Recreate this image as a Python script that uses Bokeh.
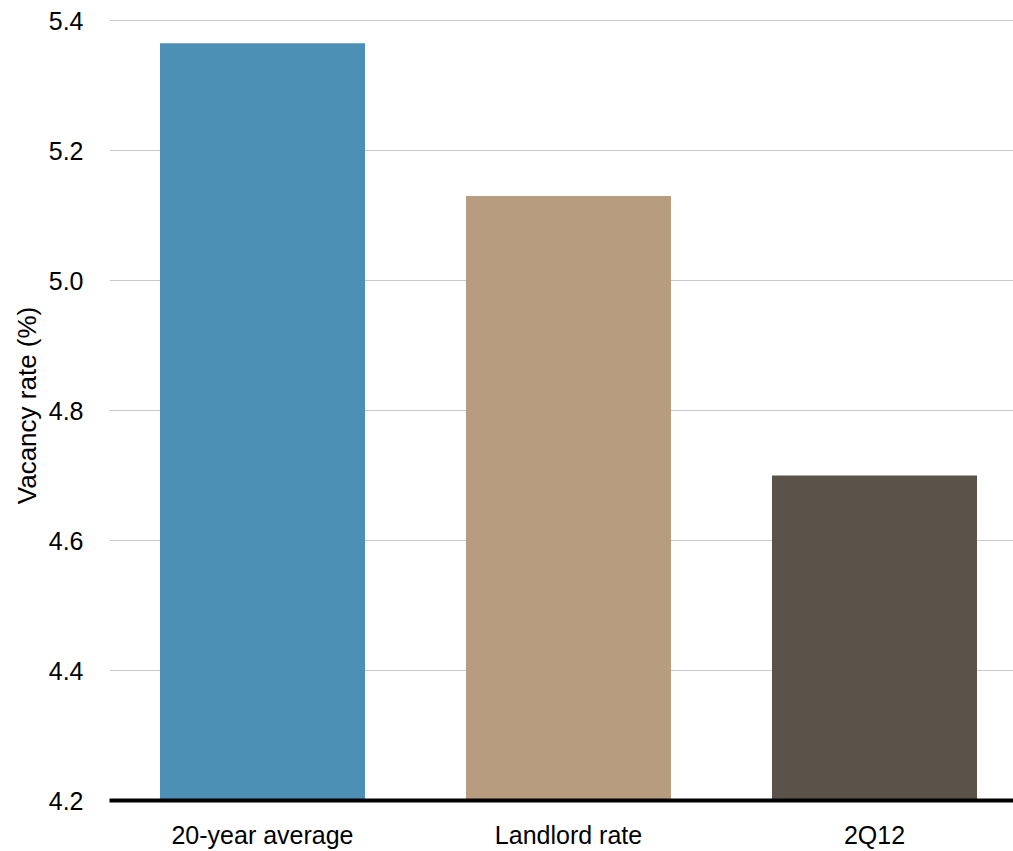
from bokeh.plotting import figure
from bokeh.models import Range1d, FixedTicker, PrintfTickFormatter, ColumnDataSource
from bokeh.embed import file_html
from bokeh.resources import INLINE

categories = ["20-year average", "Landlord rate", "2Q12"]
vacancy_rate = [5.365, 5.13, 4.70]
bar_colors = ["#4C91B5", "#B89C7F", "#5B5249"]
y_ticks = [4.2, 4.4, 4.6, 4.8, 5.0, 5.2, 5.4]

x_pos = [i + 0.5 for i in range(len(categories))]
src = ColumnDataSource(dict(x=x_pos, top=vacancy_rate, color=bar_colors))

FONT = "Liberation Sans"

p = figure(width=1013, height=851, output_backend="svg", toolbar_location=None,
           x_range=Range1d(0, 904 / 306), y_range=Range1d(4.2, 5.4 + 10 / 650),
           min_border_left=109, min_border_right=0, min_border_top=10, min_border_bottom=51)

p.vbar(x="x", top="top", bottom=4.2, width=0.67, color="color", line_color=None, source=src)

p.outline_line_color = None
p.background_fill_color = "white"
p.border_fill_color = "white"

p.xgrid.grid_line_color = None
p.ygrid.ticker = FixedTicker(ticks=y_ticks)
p.ygrid.grid_line_color = "#C8C8C8"
p.ygrid.grid_line_width = 1

xa = p.xaxis[0]
xa.ticker = FixedTicker(ticks=x_pos)
xa.major_label_overrides = {x: c for x, c in zip(x_pos, categories)}
xa.major_tick_line_color = None
xa.minor_tick_line_color = None
xa.axis_line_color = "black"
xa.axis_line_width = 4
xa.major_label_standoff = 14
xa.major_label_text_font = FONT
xa.major_label_text_font_size = "25px"
xa.major_label_text_color = "black"

ya = p.yaxis[0]
ya.ticker = FixedTicker(ticks=y_ticks)
ya.formatter = PrintfTickFormatter(format="%.1f")
ya.axis_line_color = None
ya.major_tick_line_color = None
ya.minor_tick_line_color = None
ya.major_label_standoff = 20
ya.major_label_text_font = FONT
ya.major_label_text_font_size = "25px"
ya.major_label_text_color = "black"
ya.axis_label = "Vacancy rate (%)"
ya.axis_label_text_font = FONT
ya.axis_label_text_font_size = "26px"
ya.axis_label_text_font_style = "normal"
ya.axis_label_text_color = "black"
ya.axis_label_standoff = 4

open("out.html", "w").write(file_html(p, INLINE))
